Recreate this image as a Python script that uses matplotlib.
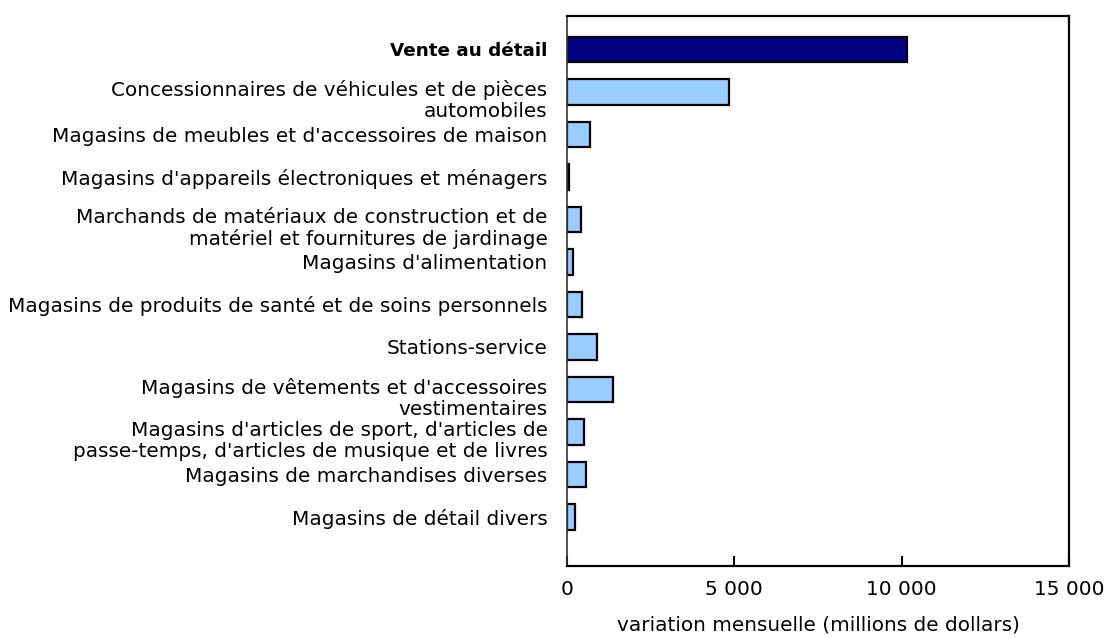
import matplotlib
matplotlib.use("Agg")
import matplotlib.pyplot as plt
import matplotlib.transforms as mtransforms
from matplotlib.ticker import FuncFormatter

categories = [
    "Vente au détail",
    "Concessionnaires de véhicules et de pièces\nautomobiles",
    "Magasins de meubles et d'accessoires de maison",
    "Magasins d'appareils électroniques et ménagers",
    "Marchands de matériaux de construction et de\nmatériel et fournitures de jardinage",
    "Magasins d'alimentation",
    "Magasins de produits de santé et de soins personnels",
    "Stations-service",
    "Magasins de vêtements et d'accessoires\nvestimentaires",
    "Magasins d'articles de sport, d'articles de\npasse-temps, d'articles de musique et de livres",
    "Magasins de marchandises diverses",
    "Magasins de détail divers",
]
values = [10160, 4850, 680, 70, 410, 190, 450, 890, 1380, 505, 570, 250]
xticks = [0, 5000, 10000, 15000]

FS = 14.4
plt.rcParams['font.family'] = ['DejaVu Sans']
fig = plt.figure(figsize=(11.05, 6.38), dpi=100)
ax = fig.add_axes([567/1105, 1-566/638, (1069-567)/1105, (566-16)/638])

ypos = list(range(len(categories)))
colors = ['#000080'] + ['#99ccff'] * (len(categories) - 1)
ax.barh(ypos, values, height=0.6, color=colors, edgecolor='black', linewidth=1.6)

ax.set_xlim(0, 15000)
ax.set_ylim(11 + 1.153, -0.788)
ax.set_xticks(xticks)
ax.xaxis.set_major_formatter(FuncFormatter(lambda v, p: f"{int(v):,}".replace(",", " ")))
ax.tick_params(axis='x', direction='in', length=7.5, width=1.5, pad=10, labelsize=FS)
ax.set_yticks(ypos)
ax.set_yticklabels(categories, fontsize=FS, ha='right', linespacing=1.13)
ax.tick_params(axis='y', length=0, pad=14)
for i, lab in enumerate(ax.get_yticklabels()):
    if i == 0:
        lab.set_fontweight('bold')
        lab.set_fontsize(13.2)
    if "\n" in categories[i]:
        lab.set_transform(lab.get_transform() + mtransforms.ScaledTranslation(0, -4.0/72, fig.dpi_scale_trans))

for s in ['top', 'right', 'bottom']:
    ax.spines[s].set_linewidth(1.6)
    ax.spines[s].set_color('black')
ax.spines['left'].set_linewidth(1.2)
ax.spines['left'].set_color('#333333')

ax.set_xlabel("variation mensuelle (millions de dollars)", fontsize=FS, labelpad=12)

fig.savefig("out.png", dpi=100)
